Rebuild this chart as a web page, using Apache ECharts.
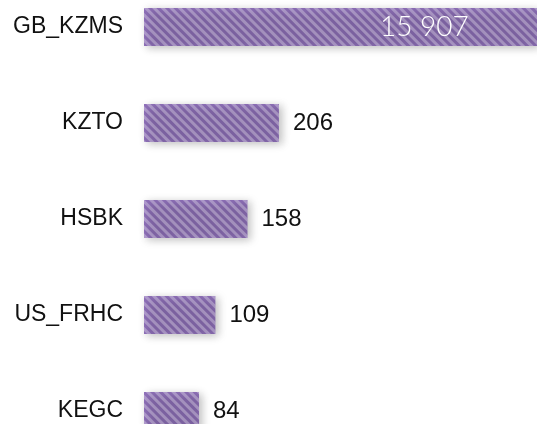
<!DOCTYPE html>
<html>
<head>
<meta charset="utf-8">
<script src="https://cdn.jsdelivr.net/npm/echarts@6/dist/echarts.min.js"></script>
<style>
html,body{margin:0;padding:0;background:#fff;overflow:hidden;width:537px;height:424px;}
#chart{position:absolute;left:0;top:-21px;width:537px;height:480px;}
</style>
</head>
<body>
<div id="chart"></div>
<script>
var categories = ['GB_KZMS', 'KZTO', 'HSBK', 'US_FRHC', 'KEGC'];
var values = [15907, 206, 158, 109, 84];
var axisMax = 600;

function fmt(v) {
  return String(v).replace(/\B(?=(\d{3})+(?!\d))/g, ' ');
}

var chart = echarts.init(document.getElementById('chart'), null, {renderer: 'canvas'});
var data = values.map(function (v, i) {
  var item = {value: v};
  if (v > axisMax) {
    item.label = {
      position: [236, '50%'],
      verticalAlign: 'middle',
      color: '#ffffff',
      fontFamily: 'Lato',
      fontWeight: 300,
      fontSize: 28
    };
  }
  return item;
});

chart.setOption({
  animation: false,
  grid: {left: 144, right: 0, top: 0, bottom: 0, containLabel: false},
  xAxis: {
    type: 'value', min: 0, max: axisMax,
    show: false
  },
  yAxis: {
    type: 'category',
    data: categories,
    inverse: true,
    axisLine: {show: false},
    axisTick: {show: false},
    splitLine: {show: false},
    axisLabel: {
      margin: 21,
      color: '#111111',
      fontFamily: 'Liberation Sans',
      fontSize: 23
    }
  },
  series: [{
    type: 'bar',
    data: data,
    barWidth: 38,
    clip: true,
    itemStyle: {
      color: '#9172bc',
      shadowBlur: 8,
      shadowColor: 'rgba(0,0,0,0.12)',
      shadowOffsetX: 3,
      shadowOffsetY: 2,
      decal: {
        symbol: 'rect',
        symbolSize: 1,
        rotation: Math.PI / 4,
        dashArrayX: [1, 0],
        dashArrayY: [3, 3],
        color: 'rgba(255,255,255,0.3)'
      }
    },
    label: {
      show: true,
      position: 'right',
      distance: 14,
      color: '#111111',
      fontFamily: 'Liberation Sans',
      fontSize: 24,
      formatter: function (p) { return fmt(p.value); }
    }
  }]
});
</script>
</body>
</html>
